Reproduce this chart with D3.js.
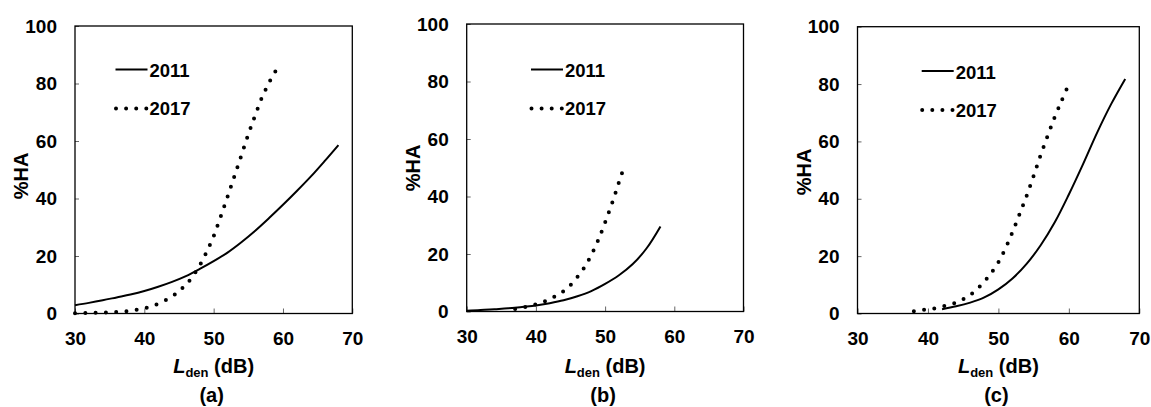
<!DOCTYPE html>
<html>
<head>
<meta charset="utf-8">
<script src="https://cdn.jsdelivr.net/npm/d3@7/dist/d3.min.js"></script>
<style>
  body { margin: 0; background: #fff; }
  text { font-family: "Liberation Sans", Arial, sans-serif; font-weight: bold; fill: #000; }
</style>
</head>
<body>
<script>
// values
var xTicks = [30, 40, 50, 60, 70];
var yTicks = [0, 20, 40, 60, 80, 100];
var seriesNames = ["2011", "2017"];
var panelLabels = ["(a)", "(b)", "(c)"];

// panel (a)
var ldenA2011 = [30, 32, 34, 36, 38, 40, 42, 44, 46, 48, 50, 52, 54, 56, 58, 60, 62, 64, 66, 68];
var haA2011   = [2.9, 3.7, 4.6, 5.6, 6.6, 7.8, 9.3, 11.0, 13.0, 15.5, 18.2, 21.2, 24.8, 28.8, 33.2, 37.8, 42.6, 47.6, 53.0, 58.6];
var ldenA2017 = [30, 32, 34, 36, 38, 40, 42, 44, 45, 46, 47, 48, 49, 50, 51, 52, 53, 54, 55, 56, 57, 58, 59, 59.5];
var haA2017   = [0.1, 0.2, 0.3, 0.5, 1.0, 1.8, 3.4, 5.9, 7.8, 10.0, 13.0, 16.8, 21.5, 26.9, 33.6, 40.6, 47.8, 55.0, 62.3, 69.0, 75.3, 80.3, 84.6, 86.5];

// panel (b)
var ldenB2011 = [30, 32, 34, 36, 38, 40, 42, 44, 46, 48, 50, 52, 54, 56, 58];
var haB2011   = [0.3, 0.5, 0.8, 1.1, 1.6, 2.1, 2.9, 3.9, 5.3, 7.1, 9.6, 12.6, 16.5, 22.0, 29.6];
var ldenB2017 = [37, 38, 39, 40, 41, 42, 43, 44, 45, 46, 47, 48, 49, 50, 51, 52, 52.8];
var haB2017   = [0.9, 1.3, 1.9, 2.5, 3.3, 4.3, 5.6, 7.1, 9.2, 12.0, 15.3, 19.6, 24.8, 31.0, 37.6, 45.0, 50.7];

// panel (c)
var ldenC2011 = [42, 44, 46, 48, 50, 52, 54, 56, 58, 60, 62, 64, 66, 68];
var haC2011   = [1.5, 2.5, 3.8, 5.6, 8.4, 12.2, 17.3, 23.8, 31.8, 41.5, 52.0, 63.0, 73.0, 81.8];
var ldenC2017 = [38, 39, 40, 41, 42, 43, 44, 45, 46, 47, 48, 49, 50, 51, 52, 53, 54, 55, 56, 57, 58, 59, 59.8];
var haC2017   = [0.8, 1.1, 1.5, 1.8, 2.4, 3.0, 3.8, 5.0, 6.5, 8.6, 11.1, 14.2, 17.9, 22.7, 28.4, 34.6, 41.0, 48.0, 55.3, 62.0, 68.5, 74.3, 78.9];

var width = 1151,
    height = 407;

var svg = d3.select("body")
            .append("svg")
            .attr("width", width)
            .attr("height", height);

// plot boxes and legend spots, in pixels
var panels = [
  {left: 75,    right: 352.3,  top: 26,   bottom: 313.5, legX: 115.5, legY: 69.5, titleY: 176,
   s2011: [ldenA2011, haA2011], s2017: [ldenA2017, haA2017]},
  {left: 466.7, right: 743.5,  top: 24,   bottom: 311.5, legX: 531,   legY: 69.5, titleY: 168,
   s2011: [ldenB2011, haB2011], s2017: [ldenB2017, haB2017]},
  {left: 857.5, right: 1139.3, top: 26.7, bottom: 313.5, legX: 921.7, legY: 71,   titleY: 172,
   s2011: [ldenC2011, haC2011], s2017: [ldenC2017, haC2017]}
];

function toPoints(s) {
  return s[0].map(function(x, i) { return [x, s[1][i]]; });
}

panels.forEach(function(p, k) {
  var x = d3.scaleLinear().domain([30, 70]).range([p.left, p.right]);
  var y = d3.scaleLinear().domain([0, 100]).range([p.bottom, p.top]);
  var g = svg.append("g");

  var xAxis = g.append("g")
               .attr("transform", "translate(0," + p.bottom + ")")
               .call(d3.axisBottom(x).tickValues(xTicks).tickSizeInner(-5).tickSizeOuter(0).tickPadding(18));
  var yAxis = g.append("g")
               .attr("transform", "translate(" + p.left + ",0)")
               .call(d3.axisLeft(y).tickValues(yTicks).tickSizeInner(-4).tickSizeOuter(0).tickPadding(18));

  [xAxis, yAxis].forEach(function(a) {
    a.select(".domain").remove();
    a.selectAll("line").attr("stroke", "#666").attr("stroke-width", 1);
    a.selectAll("text").style("font-size", "19px").style("font-family", "'Liberation Sans', Arial, sans-serif")
     .style("font-weight", "bold").attr("fill", "#000");
  });

  g.append("rect")
   .attr("x", p.left).attr("y", p.top)
   .attr("width", p.right - p.left).attr("height", p.bottom - p.top)
   .attr("fill", "none").attr("stroke", "#000").attr("stroke-width", 1.3);

  var line = d3.line()
               .x(function(d) { return x(d[0]); })
               .y(function(d) { return y(d[1]); })
               .curve(d3.curveCatmullRom);

  g.append("path")
   .datum(toPoints(p.s2011))
   .attr("d", line)
   .attr("fill", "none").attr("stroke", "#000").attr("stroke-width", 2);

  g.append("path")
   .datum(toPoints(p.s2017))
   .attr("d", line)
   .attr("fill", "none").attr("stroke", "#000").attr("stroke-width", 4)
   .attr("stroke-linecap", "round").attr("stroke-dasharray", "0 10.3");

  // legend
  g.append("line")
   .attr("x1", p.legX).attr("x2", p.legX + 32)
   .attr("y1", p.legY).attr("y2", p.legY)
   .attr("stroke", "#000").attr("stroke-width", 2);
  g.append("text")
   .attr("x", p.legX + 34).attr("y", p.legY + 7.5)
   .style("font-size", "18.5px")
   .text(seriesNames[0]);

  g.append("line")
   .attr("x1", p.legX + 0.5).attr("x2", p.legX + 31)
   .attr("y1", p.legY + 39).attr("y2", p.legY + 39)
   .attr("stroke", "#000").attr("stroke-width", 4)
   .attr("stroke-linecap", "round").attr("stroke-dasharray", "0 10.1");
  g.append("text")
   .attr("x", p.legX + 34).attr("y", p.legY + 45.5)
   .style("font-size", "18.5px")
   .text(seriesNames[1]);

  // axis titles
  var xt = g.append("text")
            .attr("x", (p.left + p.right) / 2).attr("y", 373)
            .attr("text-anchor", "middle")
            .style("font-size", "20px");
  xt.append("tspan").style("font-style", "italic").text("L");
  xt.append("tspan").attr("dy", 4).style("font-size", "13px").text("den");
  xt.append("tspan").attr("dy", -4).text(" (dB)");

  g.append("text")
   .attr("transform", "translate(" + (p.left - 47) + "," + p.titleY + ") rotate(-90)")
   .attr("text-anchor", "middle")
   .style("font-size", "20px")
   .text("%HA");

  g.append("text")
   .attr("x", (p.left + p.right) / 2 - 2).attr("y", 402)
   .attr("text-anchor", "middle")
   .style("font-size", "20px")
   .text(panelLabels[k]);
});
</script>
</body>
</html>
